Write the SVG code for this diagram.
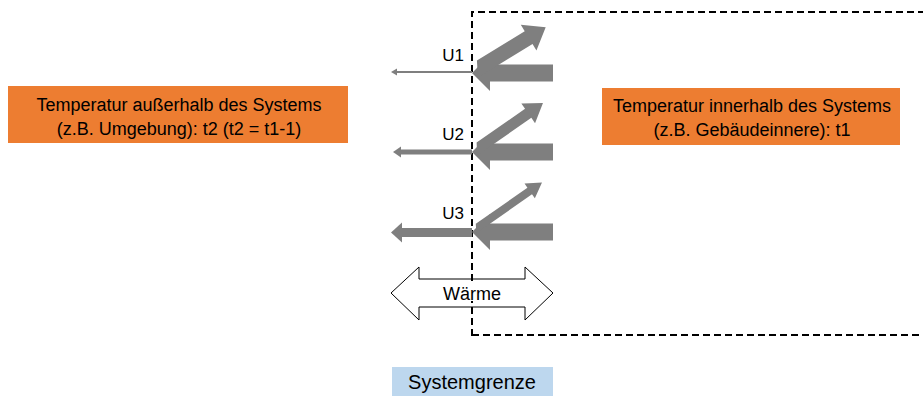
<svg xmlns="http://www.w3.org/2000/svg" width="923" height="396" viewBox="0 0 923 396">
<style>
  .lbl { font-family: "Liberation Sans", Arial, sans-serif; font-size: 18px; fill: #000; }
  .u { font-size: 17px; }
  .box { fill: #ED7D31; }
  .gray { fill: #7F7F7F; stroke: none; }
  .dash { fill: none; stroke: #000; stroke-width: 2; stroke-dasharray: 7 4; }
</style>
<rect width="923" height="396" fill="#fff"/>

<g id="outside">
  <rect class="box" x="8" y="86" width="340" height="57"/>
  <text class="lbl" x="179" y="111" text-anchor="middle">Temperatur außerhalb des Systems</text>
  <text class="lbl" x="179" y="135" text-anchor="middle">(z.B. Umgebung): t2 (t2 = t1-1)</text>
</g>

<g id="inside">
  <rect class="box" x="602" y="88" width="298" height="57"/>
  <text class="lbl" x="752" y="112" text-anchor="middle">Temperatur innerhalb des Systems</text>
  <text class="lbl" x="752" y="136" text-anchor="middle">(z.B. Gebäudeinnere): t1</text>
</g>

<g id="waerme">
  <polygon points="391,293 419,267 419,279 525,279 525,267 553,293 525,320 525,307 419,307 419,320" fill="#fff" stroke="#000" stroke-width="1"/>
</g>

<g id="connectors">
  <path class="dash" d="M472,336 V12 H923"/>
  <path class="dash" d="M472,335 H923"/>
</g>

<g id="waerme-label">
  <rect x="440" y="284" width="64" height="17" fill="#fff"/>
  <text class="lbl" x="472" y="300" text-anchor="middle">Wärme</text>
</g>

<g id="U1">
  <text class="lbl u" x="464" y="61" text-anchor="end">U1</text>
  <rect class="gray" x="395" y="71" width="77" height="2"/>
  <polygon class="gray" points="391,72 397,68.5 397,75.5"/>
  <polygon class="gray" points="472,73 490,55 490,64.5 553,64.5 553,81.5 490,81.5 490,91"/>
  <polygon class="gray" transform="translate(474,71) rotate(-31.4)" points="0,7.5 8,-7.5 64,-7.5 64,-15 84,0 64,15 64,7.5"/>
</g>

<g id="U2">
  <text class="lbl u" x="464" y="140" text-anchor="end">U2</text>
  <rect class="gray" x="399" y="149.5" width="73" height="5"/>
  <polygon class="gray" points="393,152 401,146.5 401,157.5"/>
  <polygon class="gray" points="472,152 490,134 490,143.5 553,143.5 553,160.5 490,160.5 490,170"/>
  <polygon class="gray" transform="translate(474,151) rotate(-34.8)" points="0,5.5 7,-5.5 66,-5.5 66,-12 84,0 66,12 66,5.5"/>
</g>

<g id="U3">
  <text class="lbl u" x="464" y="219" text-anchor="end">U3</text>
  <rect class="gray" x="401" y="228" width="71" height="9"/>
  <polygon class="gray" points="391,232.5 402,222.5 402,242.5"/>
  <polygon class="gray" points="472,232 490,214 490,223.5 553,223.5 553,240.5 490,240.5 490,250"/>
  <polygon class="gray" transform="translate(474,230) rotate(-35)" points="0,4 5,-4 68,-4 68,-9 83,0 68,9 68,4"/>
</g>

<g id="systemgrenze">
  <rect x="392" y="367" width="161" height="29" fill="#BDD7EE"/>
  <text class="lbl" x="472" y="389" text-anchor="middle" style="font-size:20px">Systemgrenze</text>
</g>
</svg>
